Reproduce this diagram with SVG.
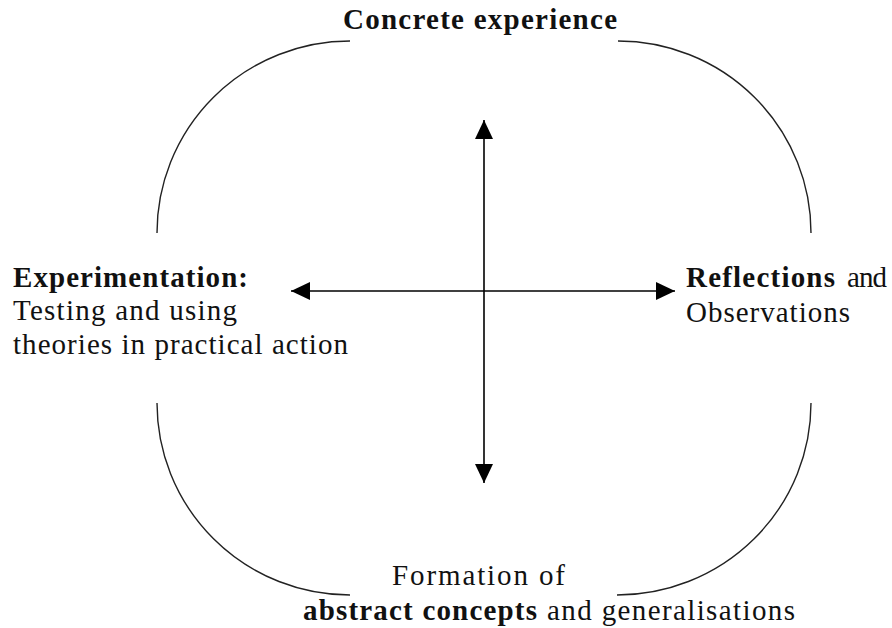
<svg xmlns="http://www.w3.org/2000/svg" width="892" height="628" viewBox="0 0 892 628">
<style>
  text { font-family: "Liberation Serif", "Times New Roman", serif; font-size: 29px; fill: #111; }
  .b { font-weight: bold; }
  .arc { fill: none; stroke: #222; stroke-width: 1.4; }
  .ax { stroke: #000; stroke-width: 1.6; fill: none; }
</style>
<defs>
  <marker id="ah" viewBox="0 0 19 18" refX="19" refY="9" markerWidth="19" markerHeight="18" markerUnits="userSpaceOnUse" orient="auto-start-reverse">
    <path d="M0,0 L19,9 L0,18 Z" fill="#000"/>
  </marker>
</defs>
<rect width="892" height="628" fill="#fff"/>
<g id="connectors">
  <path class="arc" d="M157,233 A193,192 0 0 1 350,41"/>
  <path class="arc" d="M618,41 A193,192 0 0 1 811,233"/>
  <path class="arc" d="M811,403 A194,192 0 0 1 617,595"/>
  <path class="arc" d="M350,595 A193,192 0 0 1 157,403"/>
  <line class="ax" x1="484" y1="120" x2="484" y2="483" marker-start="url(#ah)" marker-end="url(#ah)"/>
  <line class="ax" x1="291" y1="291" x2="675" y2="291" marker-start="url(#ah)" marker-end="url(#ah)"/>
</g>
<g id="concrete">
  <text class="b" x="343" y="29" textLength="274">Concrete experience</text>
</g>
<g id="experimentation">
  <text class="b" x="13" y="287" textLength="235">Experimentation:</text>
  <text x="13" y="320" textLength="224">Testing and using</text>
  <text x="13" y="354" textLength="335">theories in practical action</text>
</g>
<g id="reflections">
  <text class="b" x="686" y="287" textLength="149">Reflections</text>
  <text x="847" y="287" textLength="40">and</text>
  <text x="686" y="322" textLength="164">Observations</text>
</g>
<g id="abstract">
  <text x="392" y="585" textLength="173">Formation of</text>
  <text class="b" x="303" y="620" textLength="234">abstract concepts</text>
  <text x="547" y="620" textLength="248">and generalisations</text>
</g>
</svg>
